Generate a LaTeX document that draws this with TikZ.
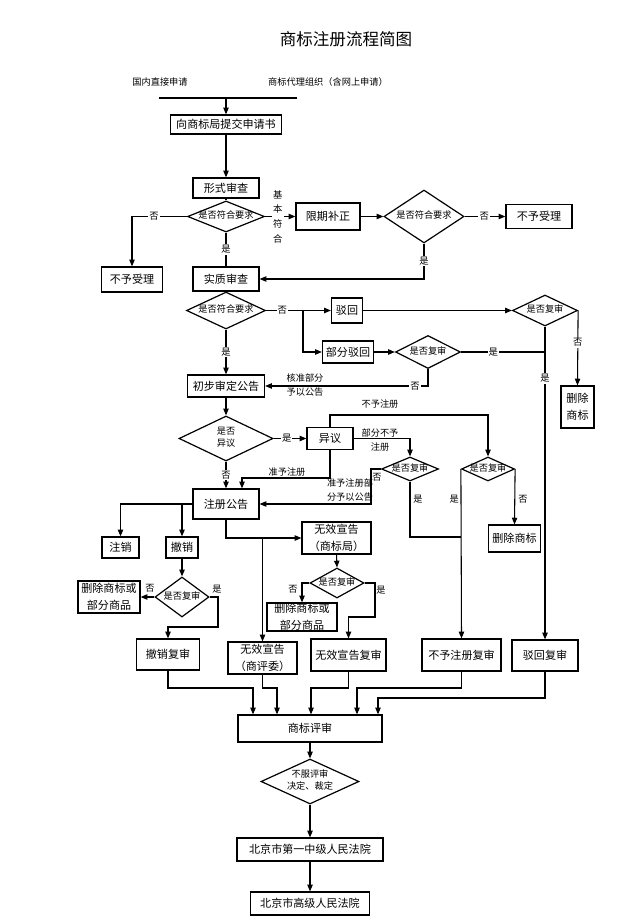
\documentclass[tikz,border=0pt]{standalone}
\usepackage{fontspec}
\setmainfont{Noto Sans CJK SC}
\usetikzlibrary{arrows.meta,shapes.geometric}
\newcommand{\dtxt}[1]{\makebox[0pt]{\begin{tabular}{@{}c@{}}#1\end{tabular}}}
\begin{document}
\begin{tikzpicture}[x=0.75pt,y=-0.75pt,
  box/.style 2 args={draw, line width=0.9pt, inner sep=0pt, minimum width=#1*0.75pt, minimum height=#2*0.75pt, font=\fontsize{8.3}{12.5}\selectfont, align=center},
  dia/.style 2 args={draw, shape=diamond, line width=0.9pt, inner sep=0pt, minimum width=#1*0.75pt, minimum height=#2*0.75pt, font=\fontsize{6.9}{9}\selectfont},
  ln/.style={line width=0.8pt},
  arr/.style={line width=0.8pt, -{Triangle[length=5pt,width=4pt]}},
  lab/.style={fill=white, inner sep=0.8pt, font=\fontsize{7}{11}\selectfont, align=center},
  tl/.style={inner sep=0pt, font=\fontsize{6.9}{10.5}\selectfont, align=center}]
\path[fill=white] (0,0) rectangle (626,923);
\useasboundingbox (0,0) rectangle (626,923);
% texts
\node[font=\fontsize{12.4}{14}\selectfont] (title) at (346,39) {商标注册流程简图};
\node[tl] (t1) at (160,82) {国内直接申请};
\node[tl] (t2) at (328,82) {商标代理组织（含网上申请）};
\coordinate (bl) at (159,98); \coordinate (br) at (297,98); \coordinate (bm) at (226,98);
% nodes
\node[box={111}{19}] (s1) at (226,124.5) {向商标局提交申请书};
\node[box={66}{20}] (s2) at (226,188) {形式审查};
\node[dia={77}{31}] (d1) at (226,216.5) {\dtxt{是否符合要求}};
\node[box={61}{25}] (n1) at (132,279.5) {不予受理};
\node[box={64}{27}] (r1) at (328,216.5) {限期补正};
\node[dia={80}{53}] (d2) at (424,216.5) {\dtxt{是否符合要求}};
\node[box={66}{24}] (n2) at (539,216.5) {不予受理};
\node[box={66}{24}] (s3) at (226,279) {实质审查};
\node[dia={79}{37}] (d3) at (226,310.5) {\dtxt{是否符合要求}};
\node[box={31}{25}] (b1) at (347,310.5) {驳回};
\node[box={51}{22}] (b2) at (348,352) {部分驳回};
\node[dia={65}{33}] (d4) at (428,352) {\dtxt{是否复审}};
\node[box={77}{22}] (p1) at (226,386) {初步审定公告};
\node[dia={65}{31}] (d5) at (545,310.5) {\dtxt{是否复审}};
\node[box={33}{42}] (dl2) at (577.5,407) {删除\\商标};
\node[box={66}{31}] (brf) at (545,655.5) {驳回复审};
\node[dia={94}{45}] (d6) at (226,438.5) {\dtxt{是否\\异议}};
\node[box={46}{22}] (yy) at (330,438.5) {异议};
\node[box={66}{30}] (zc) at (226,504) {注册公告};
\node[dia={57}{24}] (d8) at (410,469) {\dtxt{是否复审}};
\node[dia={53}{24}] (d7) at (488,469) {\dtxt{是否复审}};
\node[box={79}{32}] (bzf) at (461.5,655) {不予注册复审};
\node[box={52}{27}] (dl3) at (514.5,538.5) {删除商标};
\node[box={37}{21}] (zx) at (120.5,547.5) {注销};
\node[box={32}{21}] (cx) at (182,547.5) {撤销};
\node[dia={54}{40}] (d9) at (182,597) {\dtxt{是否复审}};
\node[box={62}{32}] (dsp1) at (109,597) {删除商标或\\部分商品};
\node[box={63}{31}] (cxf) at (168,654.5) {撤销复审};
\node[box={69}{32}] (sbj) at (336.5,538) {无效宣告\\（商标局）};
\node[box={69}{32}] (spw) at (262.5,658) {无效宣告\\（商评委）};
\node[dia={54}{30}] (d10) at (337,583) {\dtxt{是否复审}};
\node[box={70}{28}] (dsp2) at (302,617) {删除商标或\\部分商品};
\node[box={75}{32}] (wxf) at (348.5,655) {无效宣告复审};
\node[box={144}{27}] (sp) at (310,728.5) {商标评审};
\node[dia={98}{45}] (dm) at (310,781.5) {\dtxt{不服评审\\决定、裁定}};
\node[box={146}{23}] (f1) at (310,849.5) {北京市第一中级人民法院};
\node[box={119}{23}] (f2) at (310,903.5) {北京市高级人民法院};
% coordinates
\coordinate (k1) at (303,310.5);
\coordinate (c1) at (242,478);
\coordinate (c2) at (488,415);
\coordinate (c3) at (371,504);
\coordinate (c4) at (0,537);
\coordinate (c5) at (218,627);
\coordinate (c7) at (375,617);
\coordinate (m1) at (253,688);
\coordinate (m2) at (277,688);
\coordinate (m3) at (311,688);
\coordinate (m4) at (357,688);
\coordinate (m5) at (378,698);
% connectors
\draw[line width=1.4pt] (bl) -- (br);
\draw[arr] (bm) -- (s1.north);
\draw[arr] (s1.south) -- (s2.north);
\draw[ln] (s2.south) -- (d1.north);
\draw[arr] (d1.west) -| node[lab, pos=0.3]{否} (n1.north);
\draw[arr] (d1.east) -- node[lab, pos=0.42]{基\\本\\符\\合} (r1.west);
\draw[arr] (r1.east) -- (d2.west);
\draw[arr] (d2.east) -- node[lab, pos=0.48]{否} (n2.west);
\draw[ln] (d1.south) -- node[lab]{是} (s3.north);
\draw[arr] (d2.south) |- node[lab, pos=0.245]{是} (s3.east);
\draw[ln] (s3.south) -- (d3.north);
\draw[arr] (d3.east) -- node[lab, pos=0.25]{否} (b1.west);
\draw[arr] (k1) |- (b2.west);
\draw[arr] (b2.east) -- (d4.west);
\draw[arr] (d3.south) -- node[lab]{是} (p1.north);
\draw[arr] (d4.south) |- node[lab, pos=0.54]{否} (p1.east);
\node[tl] (lb1) at (305,385) {核准部分\\予以公告};
\draw[arr] (b1.east) -- (d5.west);
\draw[arr] (d5.east) -- node[lab, pos=0.43]{否} (dl2.north);
\draw[arr] (d5.south) -- node[lab, pos=0.166]{是} (brf.north);
\draw[ln] (d4.east) -- node[lab, pos=0.385]{是} (d4.east -| d5.south);
\draw[arr] (p1.south) -- (d6.north);
\draw[arr] (d6.east) -- node[lab, pos=0.4]{是} (yy.west);
\draw[arr] (d6.south) -- node[lab]{否} (zc.north);
\draw[arr] (yy.south) |- (c1) -- (c1 |- zc.north);
\node[tl, anchor=south] (lb2) at (287,477) {准予注册};
\draw[arr] (yy.north) |- (c2) -- (d7.north);
\node[tl] (lb3) at (380,404) {不予注册};
\draw[arr] (yy.east) -| (d8.north);
\node[tl] (lb4) at (380,440) {部分不予\\注册};
\draw[arr] (d8.west) -| (c3) -- (zc.east);
\node[tl] (lb5) at (377,477) {否};
\node[tl] (lb6) at (350,490) {准予注册部\\分予以公告};
\draw[ln] (d8.south) |- (c4 -| d7.west);
\node[tl, anchor=west] (lb7) at (413,499) {是};
\draw[arr] (d7.west) -- (bzf.north);
\node[tl, anchor=east] (lb8) at (459,499) {是};
\draw[arr] (d7.east) -- (dl3.north);
\node[tl, anchor=west] (lb9) at (518,499) {否};
\draw[arr] (zc.west) -| (zx.north);
\draw[arr] (zc.west -| cx.north) -- (cx.north);
\draw[arr] (cx.south) -- (d9.north);
\draw[arr] (d9.west) -- (dsp1.east);
\node[tl] (lb10) at (150,588) {否};
\draw[arr] (d9.east) -| (c5) -| (cxf.north);
\node[tl, anchor=south] (lb11) at (217,594) {是};
\draw[arr] (zc.south) |- (sbj.west);
\draw[arr] (sbj.west -| spw.north) -- (spw.north);
\draw[arr] (sbj.south) -- (d10.north);
\draw[arr] (d10.west) -| (dsp2.north);
\node[tl] (lb12) at (293,589) {否};
\draw[arr] (d10.east) -| (c7) -| (wxf.north);
\node[tl] (lb13) at (381,590) {是};
\draw[arr] (cxf.south) |- (m1) -- (m1 |- sp.north);
\draw[arr] (spw.south) |- (m2) -- (m2 |- sp.north);
\draw[arr] (wxf.south) |- (m3) -- (m3 |- sp.north);
\draw[arr] (bzf.south) |- (m4) -- (m4 |- sp.north);
\draw[arr] (brf.south) |- (m5) -- (m5 |- sp.north);
\draw[arr] (sp.south) -- (dm.north);
\draw[arr] (dm.south) -- (f1.north);
\draw[arr] (f1.south) -- (f2.north);
\end{tikzpicture}
\end{document}
